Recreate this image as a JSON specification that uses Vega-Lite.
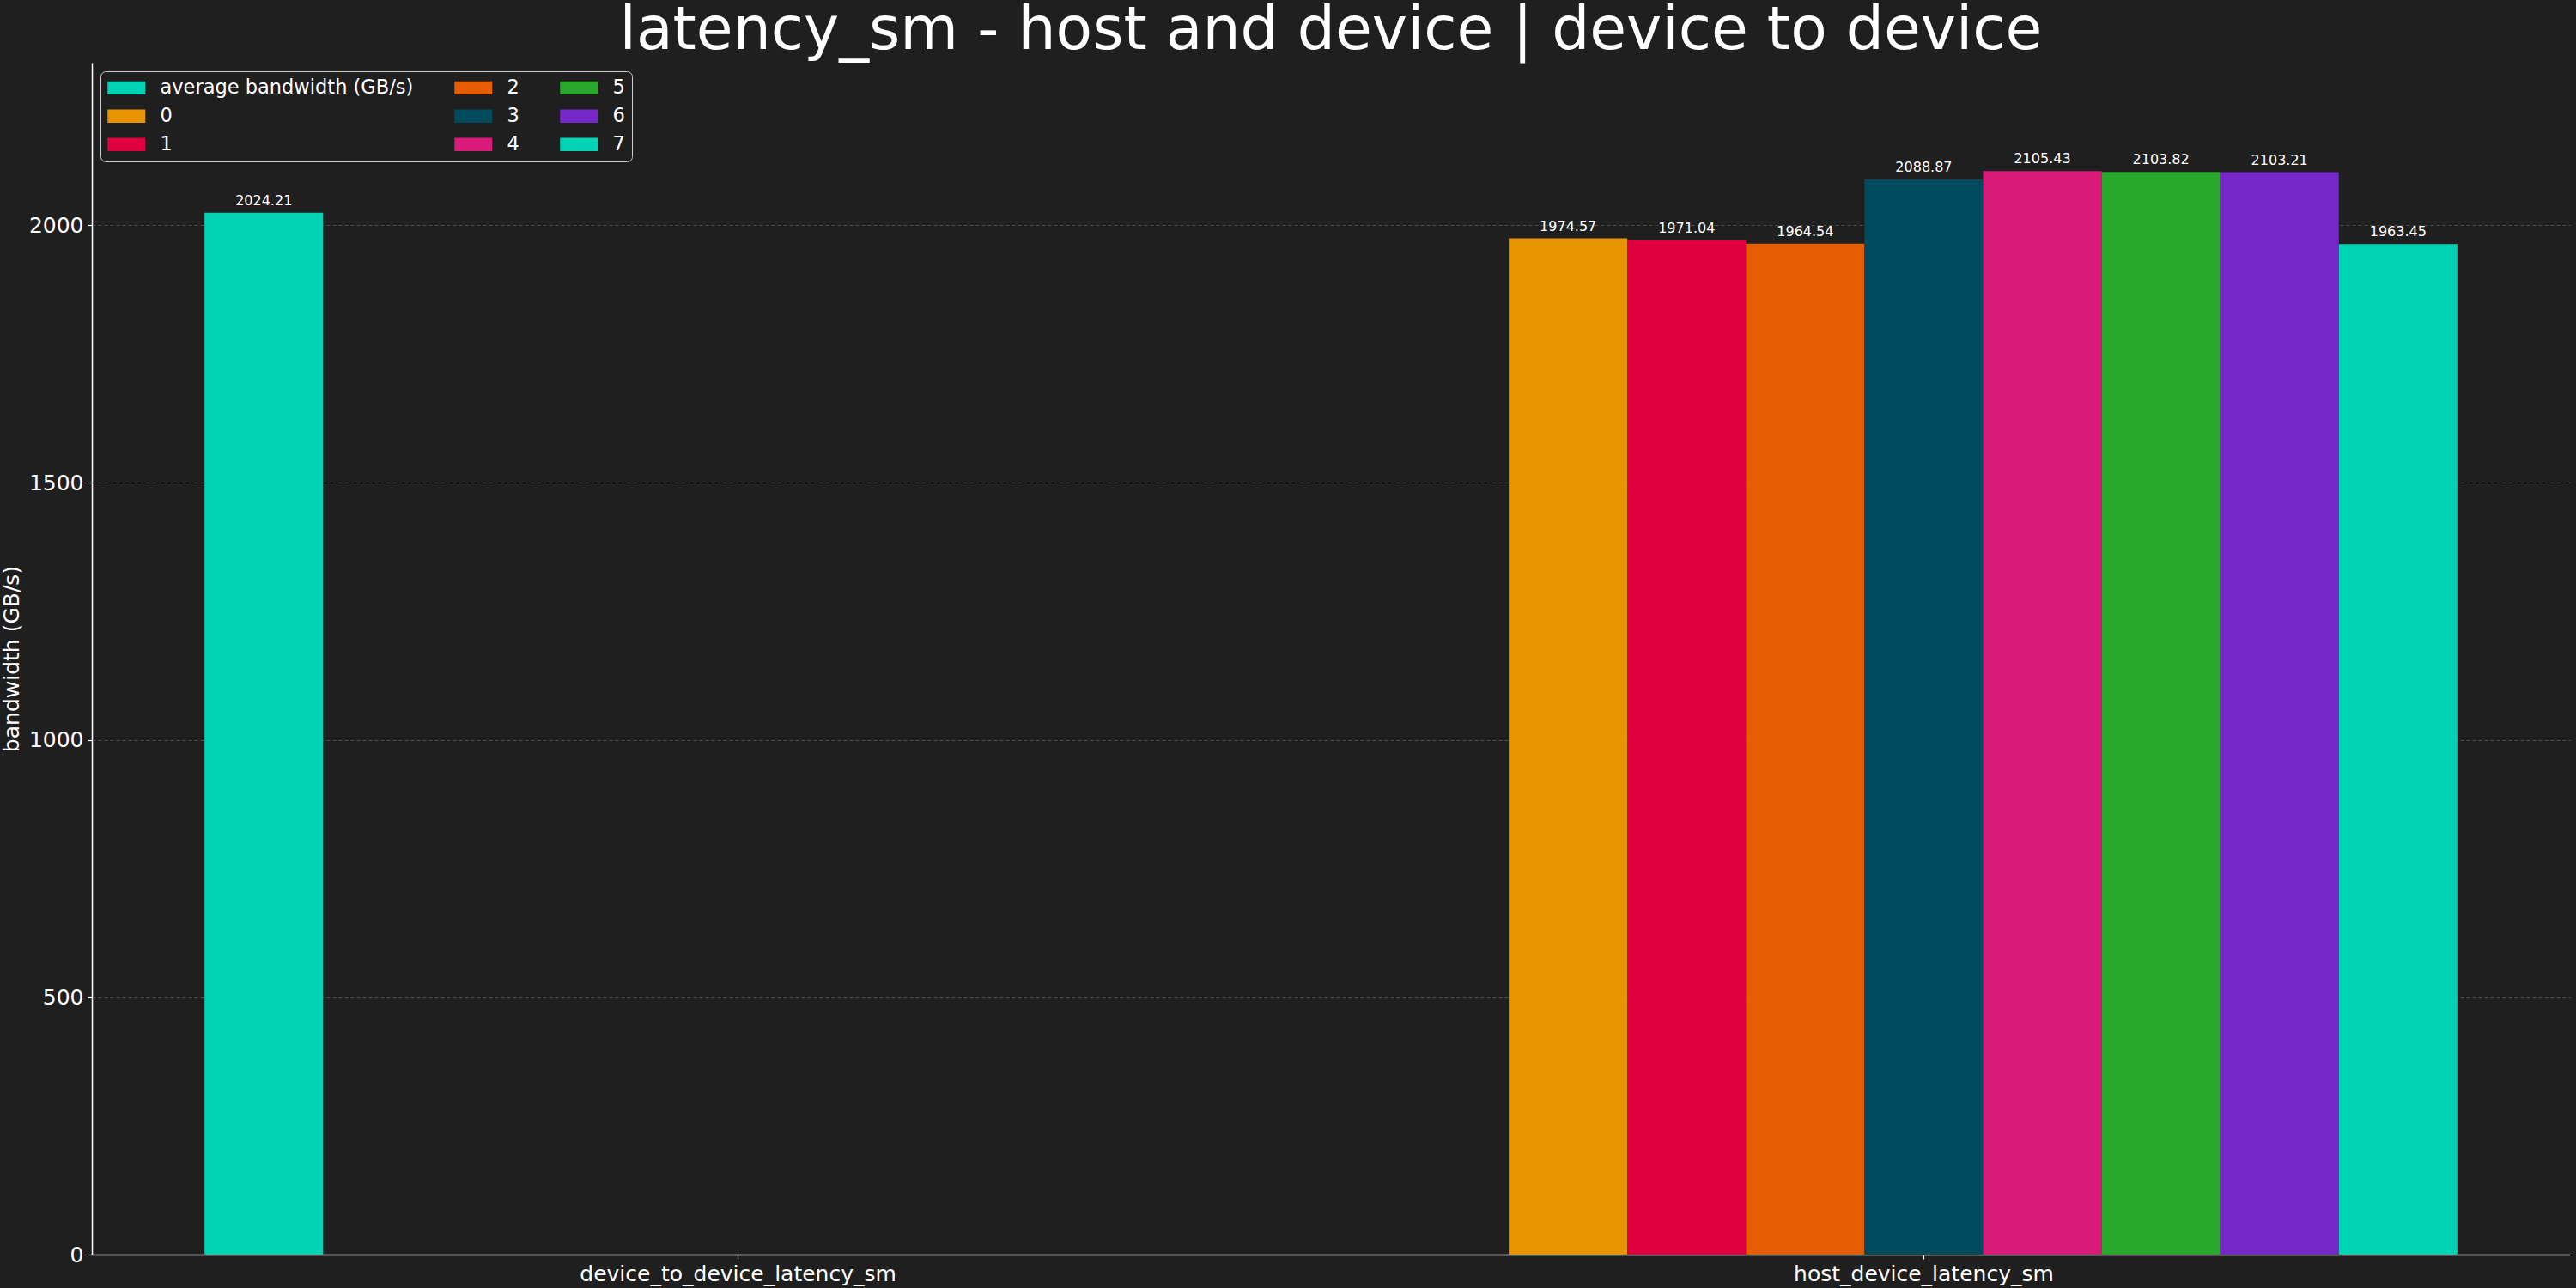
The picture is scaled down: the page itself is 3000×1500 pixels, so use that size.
{
  "$schema": "https://vega.github.io/schema/vega-lite/v6.json",
  "width": 2886,
  "height": 1388,
  "autosize": {"type": "none"},
  "padding": {"left": 107, "top": 73, "right": 7, "bottom": 39},
  "background": "#1f1f1f",
  "title": {
    "text": "latency_sm - host and device | device to device",
    "fontSize": 69.6,
    "font": "DejaVu Sans",
    "fontWeight": "normal",
    "color": "#ffffff",
    "anchor": "middle",
    "offset": 1
  },
  "config": {
    "view": {"stroke": null},
    "font": "DejaVu Sans",
    "axis": {
      "labelFont": "DejaVu Sans",
      "titleFont": "DejaVu Sans",
      "labelColor": "#ffffff",
      "titleColor": "#ffffff",
      "domainColor": "#ffffff",
      "tickColor": "#ffffff",
      "domainWidth": 1.5,
      "tickWidth": 1.2,
      "tickSize": 5,
      "labelFontSize": 25,
      "titleFontSize": 25,
      "titleFontWeight": "normal",
      "labelLimit": 0
    }
  },
  "data": {
    "values": [
      {"test": "device_to_device_latency_sm", "series": "average bandwidth (GB/s)", "bw": 2024.21},
      {"test": "host_device_latency_sm", "series": "0", "bw": 1974.57},
      {"test": "host_device_latency_sm", "series": "1", "bw": 1971.04},
      {"test": "host_device_latency_sm", "series": "2", "bw": 1964.54},
      {"test": "host_device_latency_sm", "series": "3", "bw": 2088.87},
      {"test": "host_device_latency_sm", "series": "4", "bw": 2105.43},
      {"test": "host_device_latency_sm", "series": "5", "bw": 2103.82},
      {"test": "host_device_latency_sm", "series": "6", "bw": 2103.21},
      {"test": "host_device_latency_sm", "series": "7", "bw": 1963.45}
    ]
  },
  "encoding": {
    "x": {
      "field": "test",
      "type": "nominal",
      "sort": ["device_to_device_latency_sm", "host_device_latency_sm"],
      "scale": {"paddingInner": 0.1, "paddingOuter": 0.095},
      "axis": {"title": null, "labelAngle": 0, "labelPadding": 5, "grid": false}
    },
    "xOffset": {
      "field": "series",
      "type": "nominal",
      "scale": {
        "domain": ["average bandwidth (GB/s)", "0", "1", "2", "3", "4", "5", "6", "7"],
        "paddingInner": 0,
        "paddingOuter": 0
      }
    },
    "y": {
      "field": "bw",
      "type": "quantitative",
      "scale": {"domain": [0, 2316], "nice": false, "zero": true},
      "axis": {
        "title": "bandwidth (GB/s)",
        "values": [0, 500, 1000, 1500, 2000],
        "format": "d",
        "labelPadding": 5,
        "titlePadding": 7,
        "grid": true,
        "gridColor": "#555555",
        "gridWidth": 0.8,
        "gridDash": [4, 3]
      }
    }
  },
  "layer": [
    {
      "mark": {"type": "bar"},
      "encoding": {
        "color": {
          "field": "series",
          "type": "nominal",
          "scale": {
            "domain": ["average bandwidth (GB/s)", "0", "1", "2", "3", "4", "5", "6", "7"],
            "range": ["#00d4b4", "#e69500", "#e0003f", "#e65c00", "#004a5e", "#d81b78", "#2aa82e", "#7627c8", "#00d4b4"]
          },
          "legend": {
            "title": null,
            "orient": "top-left",
            "offset": 10,
            "columns": 3,
            "labelFontSize": 22.5,
            "labelFont": "DejaVu Sans",
            "labelColor": "#ffffff",
            "labelLimit": 0,
            "symbolType": "M-1,-0.7H3V0.7H-1Z",
            "symbolSize": 484,
            "symbolStrokeWidth": 0,
            "symbolOpacity": 1,
            "strokeColor": "#cccccc",
            "fillColor": "#1f1f1f",
            "cornerRadius": 6,
            "padding": 8,
            "rowPadding": 10,
            "columnPadding": 47,
            "labelOffset": 39
          }
        }
      }
    },
    {
      "mark": {"type": "text", "dy": -6, "baseline": "bottom", "fontSize": 16, "color": "#ffffff", "font": "DejaVu Sans"},
      "encoding": {
        "text": {"field": "bw", "type": "quantitative", "format": ".2f"}
      }
    }
  ]
}
